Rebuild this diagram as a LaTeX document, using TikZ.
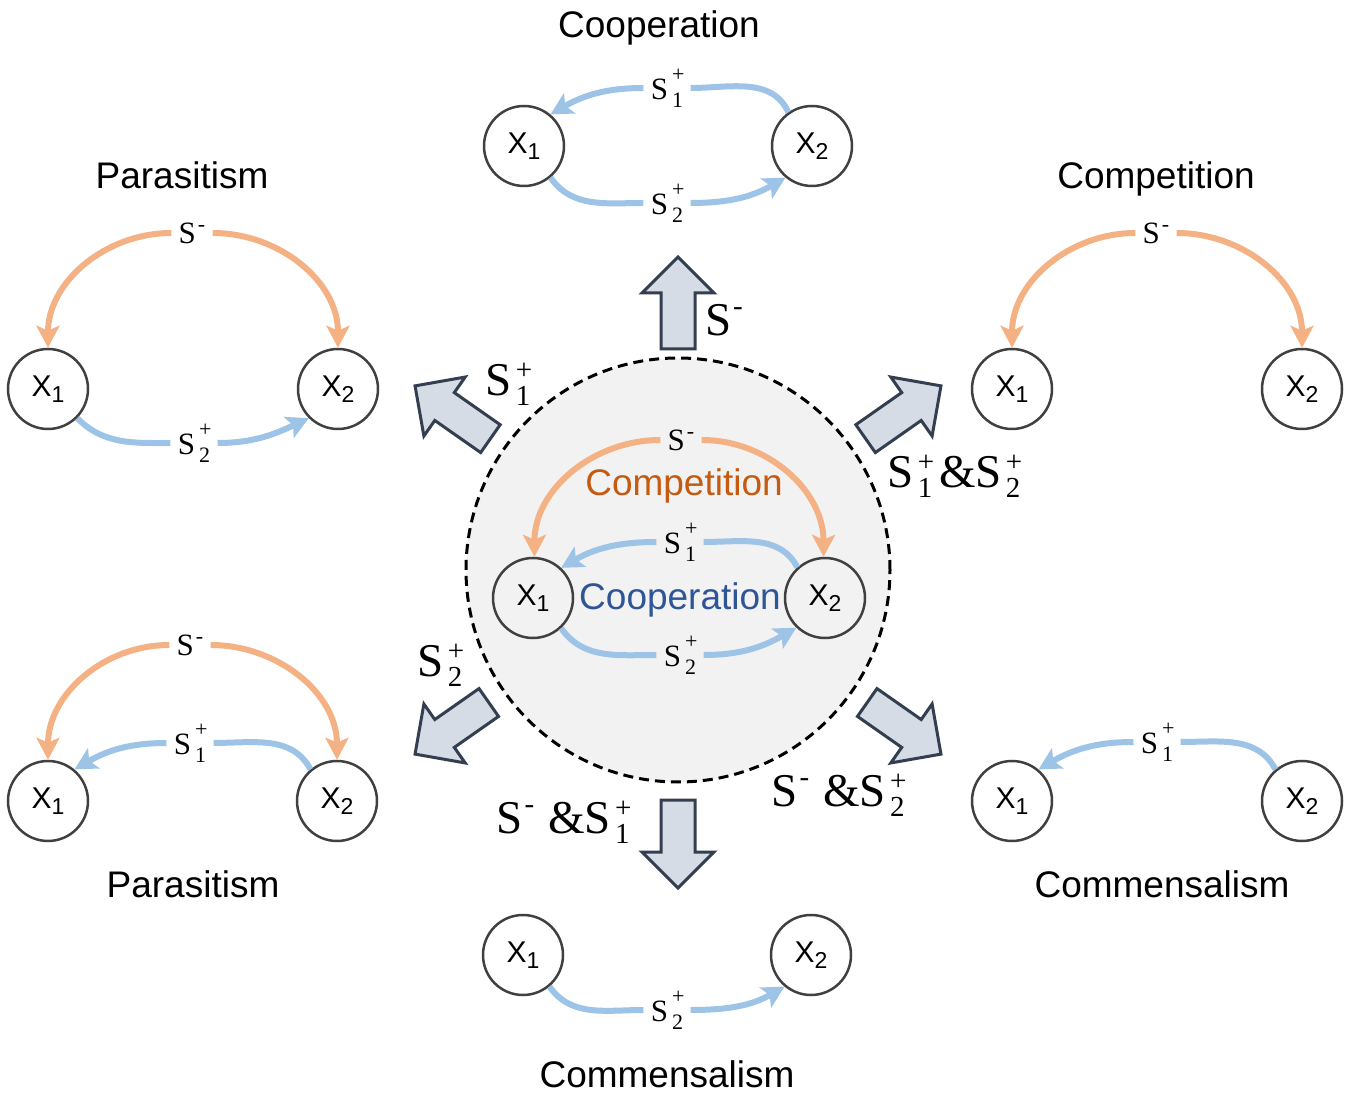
\documentclass[tikz,border=0pt]{standalone}
\usepackage{fontspec}
\setmainfont{Liberation Sans}
\newfontfamily\tnr{Liberation Serif}
\usetikzlibrary{arrows.meta}
\definecolor{cblue}{HTML}{9DC3E6}
\definecolor{corange}{HTML}{F4B183}
\definecolor{ctxtorange}{HTML}{C55A11}
\definecolor{ctxtblue}{HTML}{2F5597}
\definecolor{cgrayline}{HTML}{404040}
\definecolor{cfill}{HTML}{F2F2F2}
\definecolor{barfill}{HTML}{D6DCE5}
\definecolor{barline}{HTML}{333F50}
% diagram labels
\newcommand\dsub{\fontsize{11}{11}\selectfont}
\newcommand\Sd[2]{S\hspace{2pt}\rlap{\raisebox{8.8pt}{\dsub#1}}\raisebox{-4pt}{\dsub#2}\hspace{0.8pt}}
\newcommand\Sdm{S\hspace{1pt}\raisebox{6pt}{\dsub-}}
% arrow labels
\newcommand\asub{\fontsize{14.5}{14.5}\selectfont}
\newcommand\Sa[2]{S\hspace{2pt}\rlap{\raisebox{8pt}{\asub#1}}\raisebox{-5pt}{\asub#2}\hspace{1pt}}
\newcommand\Sam{S\hspace{1pt}\raisebox{10pt}{\asub-}}
\newcommand\Xn[1]{X\raisebox{-3pt}{\fontsize{11.5}{11.5}\selectfont#1}}
\newcommand\blockarrow[3]{%
  \draw[blockar, shift={(ctr)}, rotate=#1] (#2,-17) -- ({#3-36},-17) -- ({#3-36},-36)
    -- (#3,0) -- ({#3-36},36) -- ({#3-36},17) -- (#2,17) -- cycle;}
\tikzset{
  xnode/.style={circle, draw=cgrayline, line width=1.25pt, minimum size=40pt, inner sep=0pt,
    font=\fontsize{15}{15}\selectfont},
  slab/.style={inner xsep=3.5pt, inner ysep=1pt, font=\tnr\fontsize{15.5}{15.5}\selectfont},
  alab/.style={inner sep=1pt, font=\tnr\fontsize{23.5}{23.5}\selectfont},
  ttl/.style={inner sep=0pt, text height=0.72em, text depth=0pt, font=\fontsize{18.5}{18.5}\selectfont},
  bline/.style={line width=3pt, cblue},
  barrow/.style={bline, -{Stealth[length=11pt,width=11.5pt,inset=2.5pt]}},
  oarrow/.style={line width=3pt, corange, -{Stealth[length=11pt,width=11.5pt,inset=2.5pt]}},
  blockar/.style={draw=barline, fill=barfill, line width=1.5pt},
  ring/.style={circle, draw=black, fill=cfill, line width=1.5pt, dash pattern=on 5pt off 3pt,
    minimum size=212pt, inner sep=0pt}
}
\begin{document}
\begin{tikzpicture}[x=0.5pt,y=0.5pt]
\useasboundingbox (0,0) rectangle (1350,1094);
\coordinate (ctr) at (678,524);

% ---------- centre ----------
\node[ring] (ringnode) at (ctr) {};
\node[xnode] (m1) at (533,496) {\Xn1};
\node[xnode] (m2) at (825,496) {\Xn2};
\node[slab] (mm) at (681,654) {\Sdm};
\node[slab] (ms1) at (680,552) {\Sd{+}{1}};
\node[slab] (ms2) at (680,439) {\Sd{+}{2}};
\node[ttl, text=ctxtorange] (mcomp) at (684,606) {Competition};
\node[ttl, text=ctxtblue] (mcoop) at (680,492) {Cooperation};
\draw[oarrow] (mm.west) to[out=180,in=90] (m1.88);
\draw[oarrow] (mm.east) to[out=0,in=90] (m2.92);
\draw[bline] (m2.132) to[out=118,in=0] (ms1.east);
\draw[barrow] (ms1.west) to[out=180,in=30] (m1.47);
\draw[bline] (m1.-47) to[out=-55,in=180] (ms2.west);
\draw[barrow] (ms2.east) to[out=0,in=-150] (m2.-134);

% ---------- block arrows ----------
\blockarrow{90}{221}{313}
\blockarrow{145}{229}{321}
\blockarrow{35}{229}{321}
\blockarrow{215}{231}{321}
\blockarrow{-35}{231}{321}
\blockarrow{-90}{230}{318}
\node[alab] (l1) at (724,774) {\Sam};
\node[alab] (l2) at (508,710) {\Sa{+}{1}};
\node[alab] (l3) at (954,618) {\Sa{+}{1}\hspace{0.1em}\&\Sa{+}{2}};
\node[alab] (l4) at (440,429) {\Sa{+}{2}};
\node[alab] (l5) at (563,272) {\Sam\hspace{0.3em}\&\Sa{+}{1}};
\node[alab] (l6) at (838,299) {\Sam\hspace{0.3em}\&\Sa{+}{2}};

% ---------- top: Cooperation ----------
\node[ttl] (t1) at (659,1064) {Cooperation};
\node[xnode] (a1) at (524,948) {\Xn1};
\node[xnode] (a2) at (812,948) {\Xn2};
\node[slab] (as1) at (667,1006) {\Sd{+}{1}};
\node[slab] (as2) at (667,891) {\Sd{+}{2}};
\draw[bline] (a2.125) to[out=115,in=0] (as1.east);
\draw[barrow] (as1.west) to[out=180,in=30] (a1.50);
\draw[bline] (a1.-50) to[out=-55,in=180] (as2.west);
\draw[barrow] (as2.east) to[out=0,in=-150] (a2.-130);

% ---------- top left: Parasitism ----------
\node[ttl] (t2) at (182,913) {Parasitism};
\node[xnode] (p1) at (48,705) {\Xn1};
\node[xnode] (p2) at (338,705) {\Xn2};
\node[slab] (pm) at (192,861) {\Sdm};
\node[slab] (ps2) at (194,651) {\Sd{+}{2}};
\draw[oarrow] (pm.west) to[out=180,in=90] (p1.90);
\draw[oarrow] (pm.east) to[out=0,in=90] (p2.90);
\draw[bline] (p1.-45) to[out=-45,in=180] (ps2.west);
\draw[barrow] (ps2.east) to[out=0,in=-155] (p2.-135);

% ---------- top right: Competition ----------
\node[ttl] (t3) at (1156,913) {Competition};
\node[xnode] (c1) at (1012,705) {\Xn1};
\node[xnode] (c2) at (1302,705) {\Xn2};
\node[slab] (cm) at (1156,861) {\Sdm};
\draw[oarrow] (cm.west) to[out=180,in=90] (c1.90);
\draw[oarrow] (cm.east) to[out=0,in=90] (c2.90);

% ---------- bottom left: Parasitism ----------
\node[ttl] (t4) at (193,204) {Parasitism};
\node[xnode] (q1) at (48,293) {\Xn1};
\node[xnode] (q2) at (337,293) {\Xn2};
\node[slab] (qm) at (190,449) {\Sdm};
\node[slab] (qs1) at (190,351) {\Sd{+}{1}};
\draw[oarrow] (qm.west) to[out=180,in=90] (q1.90);
\draw[oarrow] (qm.east) to[out=0,in=90] (q2.90);
\draw[bline] (q2.130) to[out=118,in=0] (qs1.east);
\draw[barrow] (qs1.west) to[out=180,in=30] (q1.50);

% ---------- bottom right: Commensalism ----------
\node[ttl] (t5) at (1162,204) {Commensalism};
\node[xnode] (r1) at (1012,293) {\Xn1};
\node[xnode] (r2) at (1302,293) {\Xn2};
\node[slab] (rs1) at (1157,352) {\Sd{+}{1}};
\draw[bline] (r2.130) to[out=118,in=0] (rs1.east);
\draw[barrow] (rs1.west) to[out=180,in=30] (r1.50);

% ---------- bottom: Commensalism ----------
\node[ttl] (t6) at (667,14) {Commensalism};
\node[xnode] (b1) at (523,139) {\Xn1};
\node[xnode] (b2) at (811,139) {\Xn2};
\node[slab] (bs2) at (667,84) {\Sd{+}{2}};
\draw[bline] (b1.-50) to[out=-55,in=180] (bs2.west);
\draw[barrow] (bs2.east) to[out=0,in=-150] (b2.-130);
\end{tikzpicture}
\end{document}
